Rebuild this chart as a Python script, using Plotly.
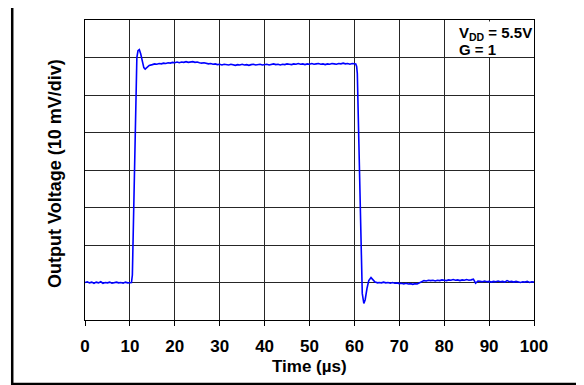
"""Step response of the output amplifier (VDD = 5.5V, G = 1)."""
import plotly.graph_objects as go

# ── Data ──────────────────────────────────────────────────────────────────────
TIME_US = [
    0, 0.5, 1, 1.5, 2, 2.5, 3, 3.5, 4, 4.5, 5, 5.5, 6, 6.5, 7, 7.5, 8, 8.5, 9, 9.5, 10,
    10.35, 10.55, 10.85, 11.2, 11.55, 11.8, 12.1, 12.4, 12.8, 13.1, 13.4, 13.8, 14.3,
    15, 15.5, 16, 16.5, 17, 17.5, 18, 18.5, 19, 19.5, 20, 20.5, 21, 21.5, 22, 22.5,
    23, 23.5, 24, 24.5, 25, 25.5, 26, 26.5, 27, 27.5, 28, 28.5, 29, 29.5, 30, 30.5,
    31, 31.5, 32, 32.5, 33, 33.5, 34, 34.5, 35, 35.5, 36, 36.5, 37, 37.5, 38, 38.5,
    39, 39.5, 40, 40.5, 41, 41.5, 42, 42.5, 43, 43.5, 44, 44.5, 45, 45.5, 46, 46.5,
    47, 47.5, 48, 48.5, 49, 49.5, 50, 50.5, 51, 51.5, 52, 52.5, 53, 53.5, 54, 54.5,
    55, 55.5, 56, 56.5, 57, 57.5, 58, 58.5, 59, 59.5, 60,
    60.3, 60.5, 60.65, 61.0, 61.4, 61.75, 62.1, 62.4, 62.8, 63.2, 63.7, 64.1, 64.6, 65.2,
    65.5, 66, 66.5, 67, 67.5, 68, 68.5, 69, 69.5, 70, 70.5, 71, 71.5, 72, 72.5, 73,
    73.5, 74, 74.5, 75, 75.5, 76, 76.5, 77, 77.5, 78, 78.5, 79, 79.5, 80, 80.5, 81,
    81.5, 82, 82.5, 83, 83.5, 84, 84.5, 85, 85.5, 86, 86.5, 87, 87.5, 88, 88.5, 89,
    89.5, 90, 90.5, 91, 91.5, 92, 92.5, 93, 93.5, 94, 94.5, 95, 95.5, 96, 96.5, 97,
    97.5, 98, 98.5, 99, 99.5, 100,
]

# output voltage in mV (10 mV per division, 8 divisions)
OUT_MV = [
    10.0, 10.2, 9.9, 10.1, 9.8, 10.1, 9.9, 10.2, 9.8, 10.0, 9.9, 10.1, 9.8, 10.0,
    10.1, 9.9, 10.0, 9.8, 10.1, 9.9, 10.0,
    10.0, 12.0, 32.0, 52.0, 70.0, 71.8, 72.1, 71.0, 68.8, 67.3, 66.9, 67.3, 67.9,
    68.1, 68.3, 68.2, 68.4, 68.3, 68.5, 68.4, 68.6, 68.5, 68.7, 68.6, 68.8, 68.6, 68.8,
    68.7, 68.9, 68.7, 68.8, 68.9, 68.7, 68.8, 68.6, 68.5, 68.6, 68.4, 68.3, 68.4, 68.2,
    68.3, 68.1, 68.2, 68.0, 68.2, 68.1, 68.0, 68.2, 68.1, 67.9, 68.1, 68.0, 68.2, 68.0,
    68.1, 67.9, 68.1, 68.2, 68.0, 68.1, 68.2, 68.0, 68.1, 68.2, 68.0, 68.1, 68.3, 68.1,
    68.2, 68.0, 68.2, 68.1, 68.3, 68.2, 68.1, 68.3, 68.2, 68.4, 68.2, 68.3, 68.1, 68.3,
    68.2, 68.4, 68.2, 68.3, 68.4, 68.2, 68.3, 68.1, 68.3, 68.2, 68.4, 68.3, 68.2, 68.4,
    68.3, 68.5, 68.3, 68.4, 68.2, 68.4, 68.3,
    68.3, 67.6, 65.7, 47.0, 26.0, 7.1, 4.4, 5.4, 8.4, 10.5, 11.3, 10.8, 10.1, 9.9,
    10.0, 9.9, 10.1, 9.9, 10.0, 9.8, 10.0, 9.8, 9.9, 9.7, 9.8, 9.6, 9.8, 9.6, 9.7, 9.5,
    9.7, 9.6, 9.9, 10.3, 10.5, 10.4, 10.6, 10.5, 10.6, 10.4, 10.6, 10.5, 10.7, 10.6,
    10.5, 10.7, 10.6, 10.8, 10.6, 10.7, 10.5, 10.7, 10.6, 10.8, 10.6, 10.7, 10.9, 9.8,
    10.4, 10.3, 10.2, 10.4, 10.2, 10.3, 10.1, 10.3, 10.2, 10.4, 10.2, 10.3, 10.1, 10.5,
    10.2, 10.3, 10.1, 10.3, 10.2, 10.0, 10.2, 10.1, 10.3, 10.0, 10.2, 10.1,
]

X_TICKS = [0, 10, 20, 30, 40, 50, 60, 70, 80, 90, 100]

FONT = "Liberation Sans, Arial, sans-serif"

fig = go.Figure()

fig.add_trace(go.Scatter(
    x=TIME_US,
    y=OUT_MV,
    mode="lines",
    line=dict(color="#0000ff", width=1.6),
    hoverinfo="skip",
))

# ── Outer frame round the whole figure ───────────────────────────────────────
fig.add_shape(
    type="rect", xref="paper", yref="paper",
    x0=-0.1621, x1=1.2, y0=-0.2133, y1=1.058,
    line=dict(color="black", width=2.5),
    fillcolor="rgba(0,0,0,0)",
)

# ── Condition label (white box hides the grid behind it) ─────────────────────
fig.add_shape(
    type="rect", xref="paper", yref="paper",
    x0=0.8196, x1=0.9933, y0=0.877, y1=0.995,
    line=dict(width=0),
    fillcolor="white",
    layer="above",
)
fig.add_annotation(
    x=0.829, y=0.954, xref="paper", yref="paper",
    xanchor="left", yanchor="middle",
    text="<b>V<sub>DD</sub> = 5.5V</b>",
    showarrow=False,
    font=dict(family=FONT, size=15, color="black"),
)
fig.add_annotation(
    x=0.829, y=0.9, xref="paper", yref="paper",
    xanchor="left", yanchor="middle",
    text="<b>G = 1</b>",
    showarrow=False,
    font=dict(family=FONT, size=15, color="black"),
)

# ── Axis titles ──────────────────────────────────────────────────────────────
fig.add_annotation(
    x=0.5, y=-0.156, xref="paper", yref="paper",
    xanchor="center", yanchor="middle",
    text="<b>Time (µs)</b>",
    showarrow=False,
    font=dict(family=FONT, size=17, color="black"),
)
fig.add_annotation(
    x=-0.0668, y=0.487, xref="paper", yref="paper",
    xanchor="center", yanchor="middle",
    text="<b>Output Voltage (10 mV/div)</b>",
    textangle=-90,
    showarrow=False,
    font=dict(family=FONT, size=18, color="black"),
)

# ── Layout ───────────────────────────────────────────────────────────────────
# the page body adds an 8 px offset, so margins are trimmed to keep the plot
# area at the same pixels as the original
fig.update_layout(
    width=584,
    height=385,
    margin=dict(l=77, r=58, t=12, b=73),
    plot_bgcolor="white",
    paper_bgcolor="white",
    showlegend=False,
    font=dict(family=FONT, color="black"),
    xaxis=dict(
        range=[0, 100],
        tickvals=X_TICKS,
        ticks="outside",
        ticklen=5,
        tickcolor="black",
        ticklabelstandoff=6,
        tickfont=dict(family=FONT, size=17, color="black", weight="bold"),
        showgrid=True,
        gridcolor="#262626",
        gridwidth=1,
        showline=True,
        linecolor="black",
        linewidth=1,
        mirror=True,
        zeroline=False,
    ),
    yaxis=dict(
        range=[0, 80],
        dtick=10,
        showticklabels=False,
        ticks="",
        showgrid=True,
        gridcolor="#262626",
        gridwidth=1,
        showline=True,
        linecolor="black",
        linewidth=1,
        mirror=True,
        zeroline=False,
    ),
)

fig.write_html("out.html")
